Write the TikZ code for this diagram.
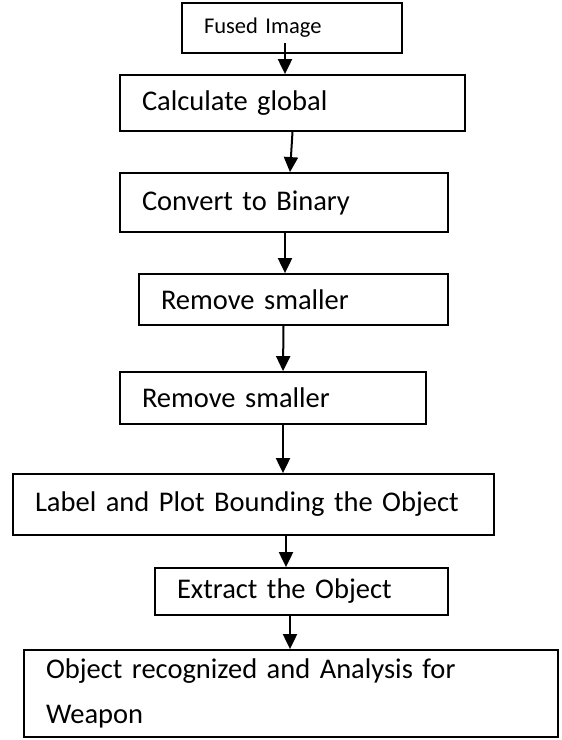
\documentclass[tikz,border=0pt]{standalone}
\usepackage{fontspec}
\setmainfont{Carlito}
\usetikzlibrary{arrows.meta}

\begin{document}
\begin{tikzpicture}[
    x=1pt,y=-1pt,
    box/.style={draw=black,line width=1.8pt,inner xsep=22pt,inner ysep=0pt,
                align=left,font=\fontsize{28.5}{45}\selectfont},
    arr/.style={-{Triangle[length=15pt,width=14pt]},line width=2pt}
  ]
    \useasboundingbox (0,0) rectangle (562,740);

    \node[box,text width=176pt,minimum height=50pt,font=\fontsize{22.5}{26}\selectfont]
      (fused) at (292,28) {Fused Image};
    \node[box,text width=301pt,minimum height=56pt] (global) at (292.5,103) {Calculate global};
    \node[box,text width=284pt,minimum height=59pt] (binary) at (284,202.5) {Convert to Binary};
    \node[box,text width=265pt,minimum height=51pt] (smallA) at (293.5,299.5) {Remove smaller};
    \node[box,text width=262pt,minimum height=52pt] (smallB) at (273,398) {Remove smaller};
    \node[box,text width=437pt,minimum height=61pt] (bound) at (253.5,504.5)
      {Label and Plot Bounding the Object};
    \node[box,text width=249pt,minimum height=47pt] (extract) at (301.5,591.5) {Extract the Object};
    \node[box,text width=490pt,minimum height=87pt] (weapon) at (291,693.5)
      {Object recognized and Analysis for\\Weapon};

    \draw[arr] ([xshift=-7pt,yshift=11pt]fused.south) -- ([xshift=-7.5pt]global.north);
    \draw[arr] (global.south) -- ([xshift=6pt]binary.north);
    \draw[arr] ([xshift=1pt]binary.south) -- ([xshift=-8.5pt]smallA.north);
    \draw[arr] ([xshift=-10pt]smallA.south) -- ([xshift=10pt]smallB.north);
    \draw[arr] ([xshift=10pt]smallB.south) -- ([xshift=29.5pt]bound.north);
    \draw[arr] ([xshift=32.5pt]bound.south) -- ([xshift=-15.5pt]extract.north);
    \draw[arr] ([xshift=-11.5pt]extract.south) -- ([xshift=-1pt]weapon.north);
\end{tikzpicture}
\end{document}
